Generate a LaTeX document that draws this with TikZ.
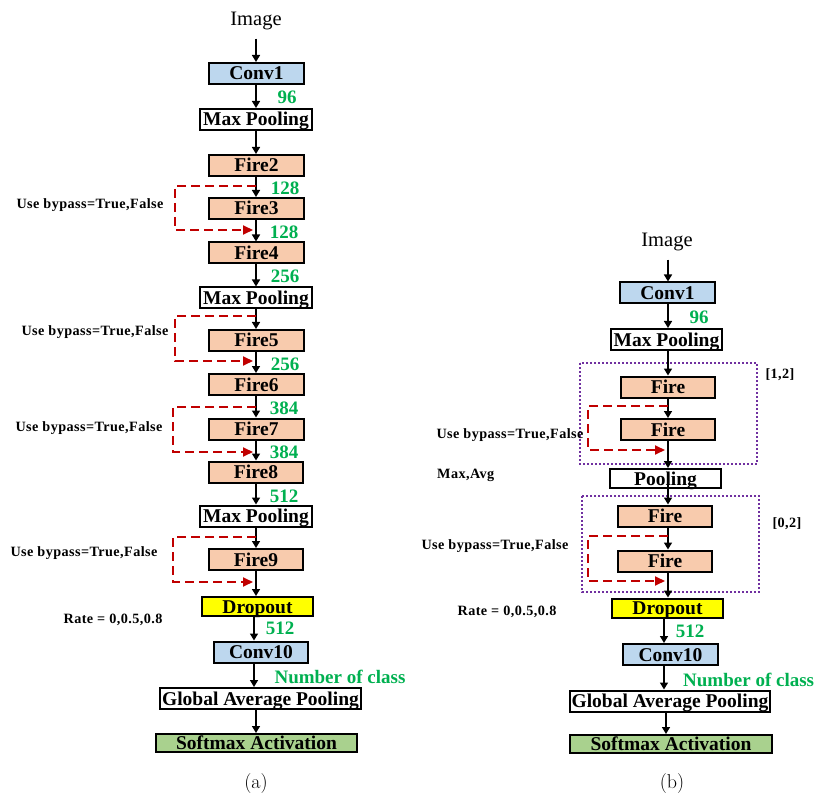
\documentclass[tikz,border=0pt]{standalone}
\usepackage{fontspec}
\newfontfamily\tnr{Liberation Serif}
\newfontfamily\tnrsp[LetterSpace=3]{Liberation Serif}
\usetikzlibrary{arrows.meta,calc}
\definecolor{cblue}{HTML}{BDD7EE}
\definecolor{cfire}{HTML}{F8CBAD}
\definecolor{cyel}{HTML}{FFFF00}
\definecolor{csoft}{HTML}{A9D18E}
\definecolor{tgreen}{HTML}{00B050}
\definecolor{bred}{HTML}{C00000}
\definecolor{purp}{HTML}{7030A0}
\begin{document}
\begin{tikzpicture}[x=1pt,y=-1pt,
  box/.style={draw, line width=2pt, inner sep=0pt, minimum height=21, text height=13, text depth=0pt,
    font=\tnr\bfseries\fontsize{19.5}{20}\selectfont},
  convbox/.style={box, fill=cblue},
  firebox/.style={box, fill=cfire},
  poolbox/.style={box, fill=white},
  dropbox/.style={box, fill=cyel, minimum height=19},
  softbox/.style={box, fill=csoft, minimum height=18},
  arr/.style={line width=1.5pt, -{Triangle[length=7pt,width=8pt]}},
  byp/.style={draw=bred, line width=1.8pt, dash pattern=on 9pt off 5pt, -{Triangle[length=10pt,width=9pt,fill=bred]}},
  grp/.style={draw=purp, line width=2pt, dash pattern=on 2pt off 2pt},
  num/.style={text=tgreen, inner sep=0pt, text depth=0pt, font=\tnr\bfseries\fontsize{19}{19}\selectfont},
  lab/.style={inner sep=0pt, text depth=0pt, font=\tnrsp\bfseries\fontsize{14.2}{14}\selectfont},
  ttl/.style={inner sep=0pt, anchor=base, font=\tnr\fontsize{20.5}{20}\selectfont},
  captxt/.style={inner sep=0pt, anchor=base, font=\fontsize{20}{20}\selectfont}
]
\useasboundingbox (0,0) rectangle (814,794);
% ---------------- panel (a) ----------------
\coordinate (sa) at (256,0);
\coordinate (sb) at (254,0);
\node[ttl] (imga) at (256,26) {Image};
\node[convbox, minimum width=95] (conv1a) at (256.5,73.5) {Conv1};
\node[poolbox, minimum width=112] (mp1a) at (256,119.5) {Max Pooling};
\node[firebox, minimum width=95] (fire2) at (256.5,165.5) {Fire2};
\node[firebox, minimum width=95] (fire3) at (256.5,208.5) {Fire3};
\node[firebox, minimum width=95] (fire4) at (256.5,253) {Fire4};
\node[poolbox, minimum width=112] (mp2a) at (256,298) {Max Pooling};
\node[firebox, minimum width=95] (fire5) at (256.5,340.5) {Fire5};
\node[firebox, minimum width=95] (fire6) at (256.5,384.5) {Fire6};
\node[firebox, minimum width=95] (fire7) at (256.5,429) {Fire7};
\node[firebox, minimum width=94] (fire8) at (256,472) {Fire8};
\node[poolbox, minimum width=112] (mp3a) at (256,516) {Max Pooling};
\node[firebox, minimum width=94] (fire9) at (256,559.5) {Fire9};
\node[dropbox, minimum width=111] (dropa) at (257.5,606.5) {Dropout};
\node[convbox, minimum width=94] (conv10a) at (261,652) {Conv10};
\node[poolbox, minimum width=201] (gapa) at (260.5,698.5) {Global Average Pooling};
\node[softbox, minimum width=201] (softa) at (256.5,743) {Softmax Activation};

\draw[arr] (imga.south -| sa) ++(0,8) coordinate (ia0) -- (conv1a.north -| sa);
\draw[arr] (conv1a.south -| sa) -- (mp1a.north -| sa);
\draw[arr] (mp1a.south -| sa) -- (fire2.north -| sa);
\draw[arr] (fire2.south -| sa) -- (fire3.north -| sa);
\draw[arr] (fire3.south -| sa) -- (fire4.north -| sa);
\draw[arr] (fire4.south -| sa) -- (mp2a.north -| sa);
\draw[arr] (mp2a.south -| sa) -- (fire5.north -| sa);
\draw[arr] (fire5.south -| sa) -- (fire6.north -| sa);
\draw[arr] (fire6.south -| sa) -- (fire7.north -| sa);
\draw[arr] (fire7.south -| sa) -- (fire8.north -| sa);
\draw[arr] (fire8.south -| sa) -- (mp3a.north -| sa);
\draw[arr] (mp3a.south -| sa) -- (fire9.north -| sa);
\draw[arr] (fire9.south -| sa) -- (dropa.north -| sa);
\draw[arr] (dropa.south -| sb) -- (conv10a.north -| sb);
\draw[arr] (conv10a.south -| sb) -- (gapa.north -| sb);
\draw[arr] (gapa.south -| sa) -- (softa.north -| sa);

% bypasses (a)
\coordinate (ba1s) at (256,186); \coordinate (ba1e) at (253,230);
\draw[byp] (ba1s) -- (175,186) |- (ba1e);
\coordinate (ba2s) at (256,316); \coordinate (ba2e) at (253,361);
\draw[byp] (ba2s) -- (175,316) |- (ba2e);
\coordinate (ba3s) at (256,407); \coordinate (ba3e) at (253,452);
\draw[byp] (ba3s) -- (173,407) |- (ba3e);
\coordinate (ba4s) at (256,537); \coordinate (ba4e) at (253,582);
\draw[byp] (ba4s) -- (173,537) |- (ba4e);

% labels (a)
\node[num] (n96a) at (287,97) {96};
\node[num] (n128a) at (285,188) {128};
\node[num] (n128b) at (284,232) {128};
\node[num] (n256a) at (285,276) {256};
\node[num] (n256b) at (285,364) {256};
\node[num] (n384a) at (284,408) {384};
\node[num] (n384b) at (284,452) {384};
\node[num] (n512a) at (284,496) {512};
\node[num] (n512b) at (280,628) {512};
\node[num] (ncla) at (340,677) {Number of class};
\node[lab] (lba1) at (90,204) {Use bypass=True,False};
\node[lab] (lba2) at (95,331) {Use bypass=True,False};
\node[lab] (lba3) at (89,427) {Use bypass=True,False};
\node[lab] (lba4) at (84,552) {Use bypass=True,False};
\node[lab] (ratea) at (113,619) {Rate = 0,0.5,0.8};
\node[captxt] (capa) at (256,788) {(a)};

% ---------------- panel (b) ----------------
\coordinate (tb) at (668,0);
\coordinate (ub) at (664,0);
\coordinate (vb) at (666,0);
\draw[grp] (580,363) rectangle (757,464);
\draw[grp] (582,496) rectangle (759,592);
\node[ttl] (imgb) at (667,247) {Image};
\node[convbox, minimum width=95] (conv1b) at (667.5,293) {Conv1};
\node[poolbox, minimum width=111] (mpb) at (666.5,339.5) {Max Pooling};
\node[firebox, minimum width=94] (firea) at (668,387) {Fire};
\node[firebox, minimum width=94] (fireb) at (668,429.5) {Fire};
\node[poolbox, minimum width=111, minimum height=19] (poolb) at (665.5,478.5) {Pooling};
\node[firebox, minimum width=94] (firec) at (665,516) {Fire};
\node[firebox, minimum width=94] (fired) at (665,561) {Fire};
\node[dropbox, minimum width=111] (dropb) at (667.5,608) {Dropout};
\node[convbox, minimum width=95] (conv10b) at (670.5,654.5) {Conv10};
\node[poolbox, minimum width=200] (gapb) at (670,701) {Global Average Pooling};
\node[softbox, minimum width=202] (softb) at (671,744) {Softmax Activation};

\draw[arr] (imgb.south -| tb) ++(0,8) coordinate (ib0) -- (conv1b.north -| tb);
\draw[arr] (conv1b.south -| tb) -- (mpb.north -| tb);
\draw[arr] (mpb.south -| tb) -- (firea.north -| tb);
\draw[arr] (firea.south -| tb) -- (fireb.north -| tb);
\draw[arr] (fireb.south -| tb) -- (poolb.north -| tb);
\draw[arr] (poolb.center -| tb) -- (firec.north -| tb);
\draw[arr] (firec.south -| tb) -- (fired.north -| tb);
\draw[arr] (fired.south -| tb) -- (dropb.north -| tb);
\draw[arr] (dropb.south -| ub) -- (conv10b.north -| ub);
\draw[arr] (conv10b.south -| ub) -- (gapb.north -| ub);
\draw[arr] (gapb.south -| vb) -- (softb.north -| vb);

% bypasses (b)
\coordinate (bb1s) at (668,406); \coordinate (bb1e) at (665,450);
\draw[byp] (bb1s) -- (588,406) |- (bb1e);
\coordinate (bb2s) at (668,536); \coordinate (bb2e) at (665,581);
\draw[byp] (bb2s) -- (588,536) |- (bb2e);

% labels (b)
\node[num] (n96b) at (699,317) {96};
\node[num] (n512c) at (690,631) {512};
\node[num, anchor=west] (nclb) at (683,680) {Number of class};
\node[lab] (rng1) at (780,374) {[1,2]};
\node[lab] (rng2) at (787,523) {[0,2]};
\node[lab] (lbb1) at (510,434) {Use bypass=True,False};
\node[lab] (lbb2) at (495,545) {Use bypass=True,False};
\node[lab, anchor=west] (mxavg) at (437,474) {Max,Avg};
\node[lab] (rateb) at (507,611) {Rate = 0,0.5,0.8};
\node[captxt] (capb) at (672,788) {(b)};
\end{tikzpicture}
\end{document}
